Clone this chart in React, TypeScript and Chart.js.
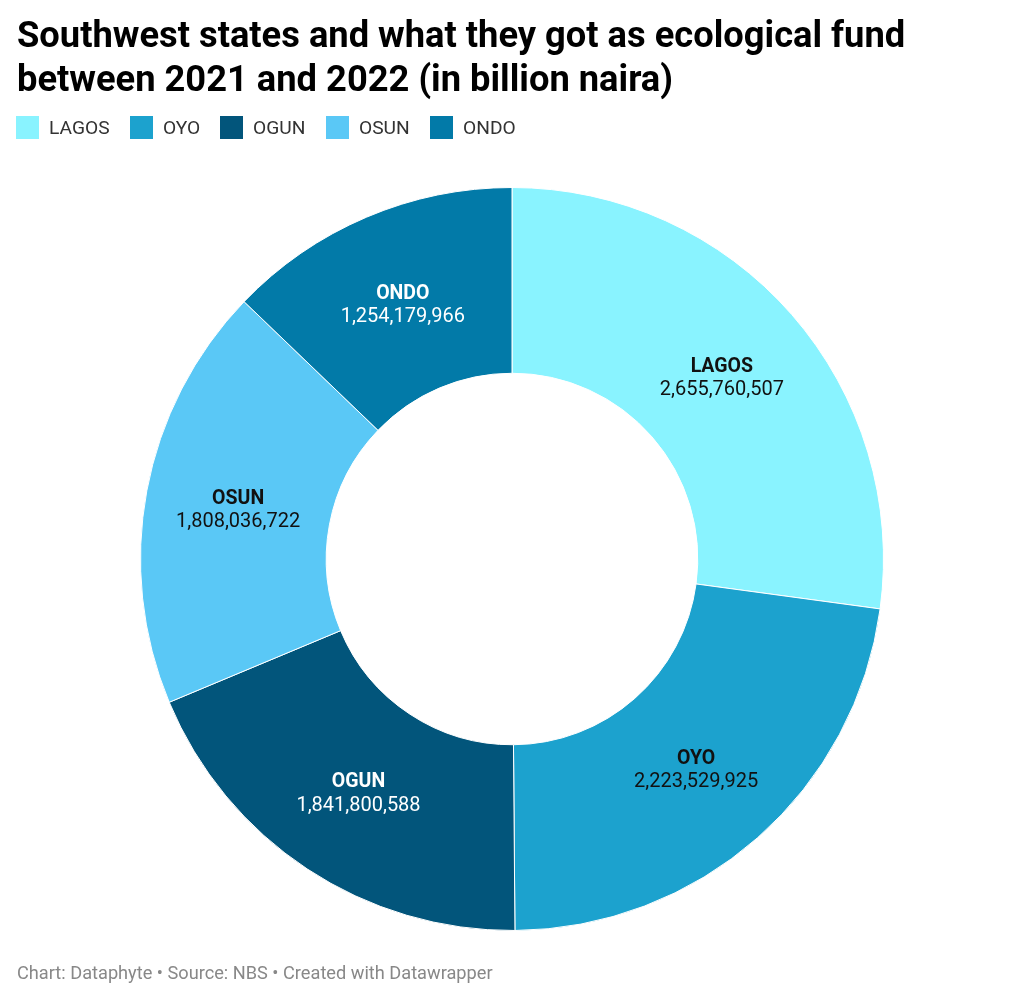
import React, { useEffect, useRef } from "react";
import { Chart, registerables } from "chart.js";

Chart.register(...registerables);

const states = ["LAGOS", "OYO", "OGUN", "OSUN", "ONDO"];
const funds = [2655760507, 2223529925, 1841800588, 1808036722, 1254179966];
const colors = ["#89f3ff", "#1ca2ce", "#02557b", "#5ac8f6", "#027aa8"];
const labelColors = ["#111", "#111", "#fff", "#111", "#fff"];

const FONT = "Roboto, 'Noto Sans', sans-serif";

const labelPlugin = {
  id: "sliceLabels",
  afterDatasetsDraw(chart: any) {
    const ctx = chart.ctx;
    const meta = chart.getDatasetMeta(0);
    meta.data.forEach((arc: any, i: number) => {
      const p = arc.getCenterPoint();
      ctx.save();
      ctx.textAlign = "center";
      ctx.textBaseline = "middle";
      ctx.fillStyle = labelColors[i];
      ctx.font = `bold 19.5px ${FONT}`;
      ctx.fillText(states[i], p.x, p.y - 9);
      ctx.font = `20px ${FONT}`;
      ctx.fillText(funds[i].toLocaleString("en-US"), p.x, p.y + 14);
      ctx.restore();
    });
  },
};

export default function App() {
  const ref = useRef<HTMLCanvasElement>(null);
  useEffect(() => {
    if (!ref.current) return;
    const chart = new Chart(ref.current, {
      type: "doughnut",
      data: {
        labels: states,
        datasets: [
          {
            data: funds,
            backgroundColor: colors,
            borderColor: "#ffffff",
            borderWidth: 1,
          },
        ],
      },
      options: {
        animation: false,
        responsive: false,
        cutout: "50%",
        layout: { padding: { top: 187, bottom: 72, left: 140, right: 140 } },
        plugins: {
          legend: { display: false },
          tooltip: { enabled: false },
        },
      },
      plugins: [labelPlugin],
    });
    return () => chart.destroy();
  }, []);

  const legendX = [16, 130, 220, 326, 430];
  return (
    <div style={{ position: "absolute", left: 0, top: 0, width: 1024, height: 1003, background: "#fff", fontFamily: FONT }}>
      <canvas ref={ref} width={1024} height={1003} style={{ position: "absolute", left: 0, top: 0 }} />
      <div style={{ position: "absolute", left: 17, top: 13, fontSize: 36.3, fontWeight: 700, lineHeight: "44px", color: "#000" }}>
        Southwest states and what they got as ecological fund
        <br />
        between 2021 and 2022 (in billion naira)
      </div>
      {states.map((s, i) => (
        <div key={s} style={{ position: "absolute", left: legendX[i], top: 116, display: "flex", alignItems: "center", height: 23 }}>
          <div style={{ width: 23, height: 23, background: colors[i] }} />
          <span style={{ marginLeft: 10, fontSize: 19.2, color: "#333", whiteSpace: "nowrap" }}>{s}</span>
        </div>
      ))}
      <div style={{ position: "absolute", left: 17, top: 962, fontSize: 18.2, color: "#888" }}>
        Chart: Dataphyte • Source: NBS • Created with Datawrapper
      </div>
    </div>
  );
}
